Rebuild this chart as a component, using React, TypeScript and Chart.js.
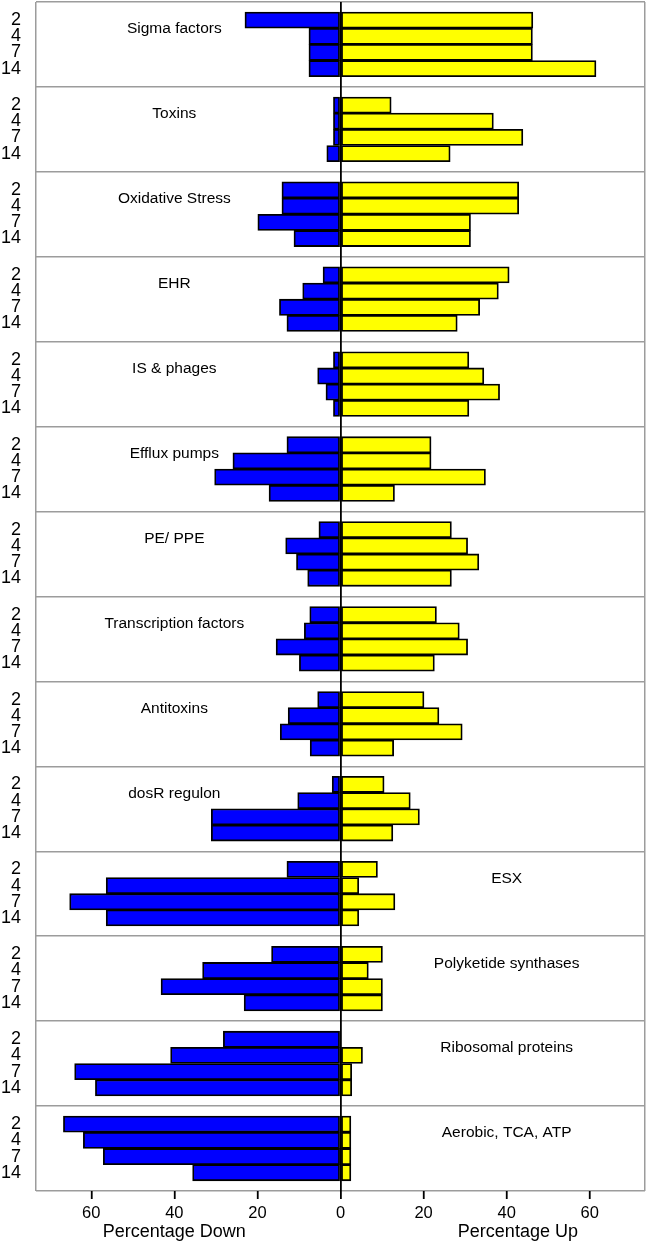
import React, { useEffect, useRef } from 'react';
import { Chart, registerables } from 'chart.js';

Chart.register(...registerables);

const FONT = '"Liberation Sans", Arial, Helvetica, sans-serif';

const CATEGORIES = [
  'Sigma factors',
  'Toxins',
  'Oxidative Stress',
  'EHR',
  'IS & phages',
  'Efflux pumps',
  'PE/ PPE',
  'Transcription factors',
  'Antitoxins',
  'dosR regulon',
  'ESX',
  'Polyketide synthases',
  'Ribosomal proteins',
  'Aerobic, TCA, ATP',
];
const LABEL_SIDE = [
  'left', 'left', 'left', 'left', 'left', 'left', 'left',
  'left', 'left', 'left', 'right', 'right', 'right', 'right',
];
const TIMEPOINTS = ['2', '4', '7', '14'];

// percentage of genes down-regulated (drawn to the left)
const PERCENT_DOWN = [
  [23.0, 7.6, 7.6, 7.6],
  [1.7, 1.7, 1.7, 3.3],
  [14.1, 14.1, 19.9, 11.2],
  [4.2, 9.1, 14.7, 12.9],
  [1.7, 5.5, 3.5, 1.7],
  [12.9, 25.9, 30.3, 17.2],
  [5.2, 13.2, 10.6, 7.9],
  [7.4, 8.7, 15.5, 9.9],
  [5.5, 12.6, 14.5, 7.3],
  [2.0, 10.3, 31.1, 31.1],
  [12.9, 56.4, 65.2, 56.4],
  [16.6, 33.2, 43.2, 23.2],
  [28.2, 40.9, 64.0, 59.0],
  [66.7, 61.9, 57.1, 35.6],
];
// percentage of genes up-regulated (drawn to the right)
const PERCENT_UP = [
  [46.3, 46.2, 46.2, 61.5],
  [12.2, 36.8, 43.9, 26.4],
  [42.9, 42.9, 31.3, 31.3],
  [40.6, 38.0, 33.5, 28.1],
  [30.9, 34.5, 38.3, 30.9],
  [21.8, 21.8, 34.9, 13.0],
  [26.7, 30.6, 33.3, 26.7],
  [23.1, 28.6, 30.6, 22.6],
  [20.1, 23.7, 29.3, 12.8],
  [10.5, 16.8, 19.0, 12.6],
  [8.9, 4.4, 13.1, 4.4],
  [10.1, 6.7, 10.1, 10.1],
  [0, 5.3, 2.7, 2.7],
  [2.5, 2.5, 2.5, 2.5],
];

const X_TICKS = [-60, -40, -20, 0, 20, 40, 60];
const X_LIMIT = 73.3;
const AXIS_TITLES = ['Percentage Down', 'Percentage Up'];
const AXIS_TITLE_POS = [-40, 42.7];
const PANEL_LABEL_X = 40;

// layout in "bar units" along the y axis
const PANEL = 5.25;
const PAD = 0.62;
const GREY = '#9c9c9c';

const barPos = (i: number, j: number) => i * PANEL + PAD + 0.5 + j;

type YTick = { value: number; label: string; sep: boolean };
const Y_TICKS: YTick[] = (() => {
  const list: YTick[] = [];
  for (let k = 0; k <= CATEGORIES.length; k++) list.push({ value: k * PANEL, label: '', sep: true });
  CATEGORIES.forEach((_, i) =>
    TIMEPOINTS.forEach((t, j) => list.push({ value: barPos(i, j), label: t, sep: false }))
  );
  list.sort((a, b) => a.value - b.value);
  return list;
})();

const X_TICK_LIST = [-X_LIMIT, ...X_TICKS, X_LIMIT];

const panelTitlePlugin = {
  id: 'panelTitles',
  afterDatasetsDraw(chart: any) {
    const { ctx, scales } = chart;
    const xs = scales.x;
    const ys = scales.y;
    ctx.save();
    ctx.font = `15.5px ${FONT}`;
    ctx.fillStyle = '#000';
    ctx.textAlign = 'center';
    ctx.textBaseline = 'middle';
    CATEGORIES.forEach((name, i) => {
      const xv = LABEL_SIDE[i] === 'left' ? -PANEL_LABEL_X : PANEL_LABEL_X;
      ctx.fillText(name, xs.getPixelForValue(xv), ys.getPixelForValue(i * PANEL + PAD + 1.05));
    });
    ctx.restore();
  },
};

export default function App() {
  const ref = useRef<HTMLCanvasElement>(null);

  useEffect(() => {
    if (!ref.current) return;
    Chart.defaults.font.family = FONT;

    const downData = PERCENT_DOWN.flatMap((row, i) =>
      row.map((v, j) => ({ x: v === 0 ? null : -v, y: barPos(i, j) }))
    );
    const upData = PERCENT_UP.flatMap((row, i) =>
      row.map((v, j) => ({ x: v === 0 ? null : v, y: barPos(i, j) }))
    );

    const barStyle = {
      borderColor: '#000',
      borderWidth: 1.8,
      borderSkipped: false,
      grouped: false,
      barPercentage: 1,
      categoryPercentage: 1,
    };

    const chart = new Chart(ref.current, {
      type: 'bar',
      data: {
        datasets: [
          { label: 'Percentage Down', data: downData as any, backgroundColor: '#0000ff', ...barStyle } as any,
          { label: 'Percentage Up', data: upData as any, backgroundColor: '#ffff00', ...barStyle } as any,
        ],
      },
      options: {
        indexAxis: 'y',
        responsive: false,
        animation: false,
        devicePixelRatio: 1,
        layout: { padding: { top: 2, right: 2, left: 0, bottom: 0 } },
        plugins: { legend: { display: false }, tooltip: { enabled: false } },
        scales: {
          y: {
            type: 'linear',
            reverse: true,
            offset: false,
            min: 0,
            max: CATEGORIES.length * PANEL,
            afterBuildTicks: (s: any) => {
              s.ticks = Y_TICKS.map((t) => ({ value: t.value }));
            },
            afterFit: (s: any) => {
              s.width = 36;
              s.paddingTop = 0;
              s.paddingBottom = 0;
            },
            ticks: {
              autoSkip: false,
              padding: 15,
              color: '#000',
              font: { size: 18, family: FONT },
              callback: (_v: any, i: number) => Y_TICKS[i].label,
            },
            grid: {
              offset: false,
              drawTicks: false,
              color: (c: any) => (Y_TICKS[c.index] && Y_TICKS[c.index].sep ? GREY : 'rgba(0,0,0,0)'),
              lineWidth: 1.5,
            },
            border: { display: false },
          },
          x: {
            type: 'linear',
            position: 'bottom',
            weight: 0,
            offset: false,
            min: -X_LIMIT,
            max: X_LIMIT,
            afterBuildTicks: (s: any) => {
              s.ticks = X_TICK_LIST.map((v) => ({ value: v }));
            },
            afterFit: (s: any) => {
              s.height = 30;
            },
            ticks: {
              autoSkip: false,
              maxRotation: 0,
              minRotation: 0,
              padding: 5,
              color: '#000',
              font: { size: 16.5, family: FONT },
              callback: (v: any, i: number) =>
                i === 0 || i === X_TICK_LIST.length - 1 ? '' : String(Math.abs(Number(v))),
            },
            grid: {
              offset: false,
              color: (c: any) => {
                const i = c.index;
                if (i === 0 || i === X_TICK_LIST.length - 1) return GREY;
                return X_TICK_LIST[i] === 0 ? '#000' : 'rgba(0,0,0,0)';
              },
              tickColor: (c: any) => {
                const i = c.index;
                return i === 0 || i === X_TICK_LIST.length - 1 ? 'rgba(0,0,0,0)' : '#000';
              },
              lineWidth: (c: any) => (X_TICK_LIST[c.index] === 0 ? 1.8 : 1.5),
              tickWidth: 1.8,
              tickLength: 8,
            },
            border: { display: false },
          },
          x2: {
            type: 'linear',
            axis: 'x',
            position: 'bottom',
            weight: 1,
            offset: false,
            min: -X_LIMIT,
            max: X_LIMIT,
            afterBuildTicks: (s: any) => {
              s.ticks = AXIS_TITLE_POS.map((v) => ({ value: v }));
            },
            afterFit: (s: any) => {
              s.height = 24;
            },
            ticks: {
              autoSkip: false,
              maxRotation: 0,
              minRotation: 0,
              padding: 0,
              color: '#000',
              font: { size: 18, family: FONT },
              callback: (_v: any, i: number) => AXIS_TITLES[i],
            },
            grid: { display: false, drawTicks: false },
            border: { display: false },
          },
        },
      } as any,
      plugins: [panelTitlePlugin],
    });

    return () => chart.destroy();
  }, []);

  return (
    <div style={{ position: 'absolute', left: 0, top: 0, width: 650, height: 1245, background: '#fff' }}>
      <canvas ref={ref} width={650} height={1245} style={{ display: 'block' }} />
    </div>
  );
}
